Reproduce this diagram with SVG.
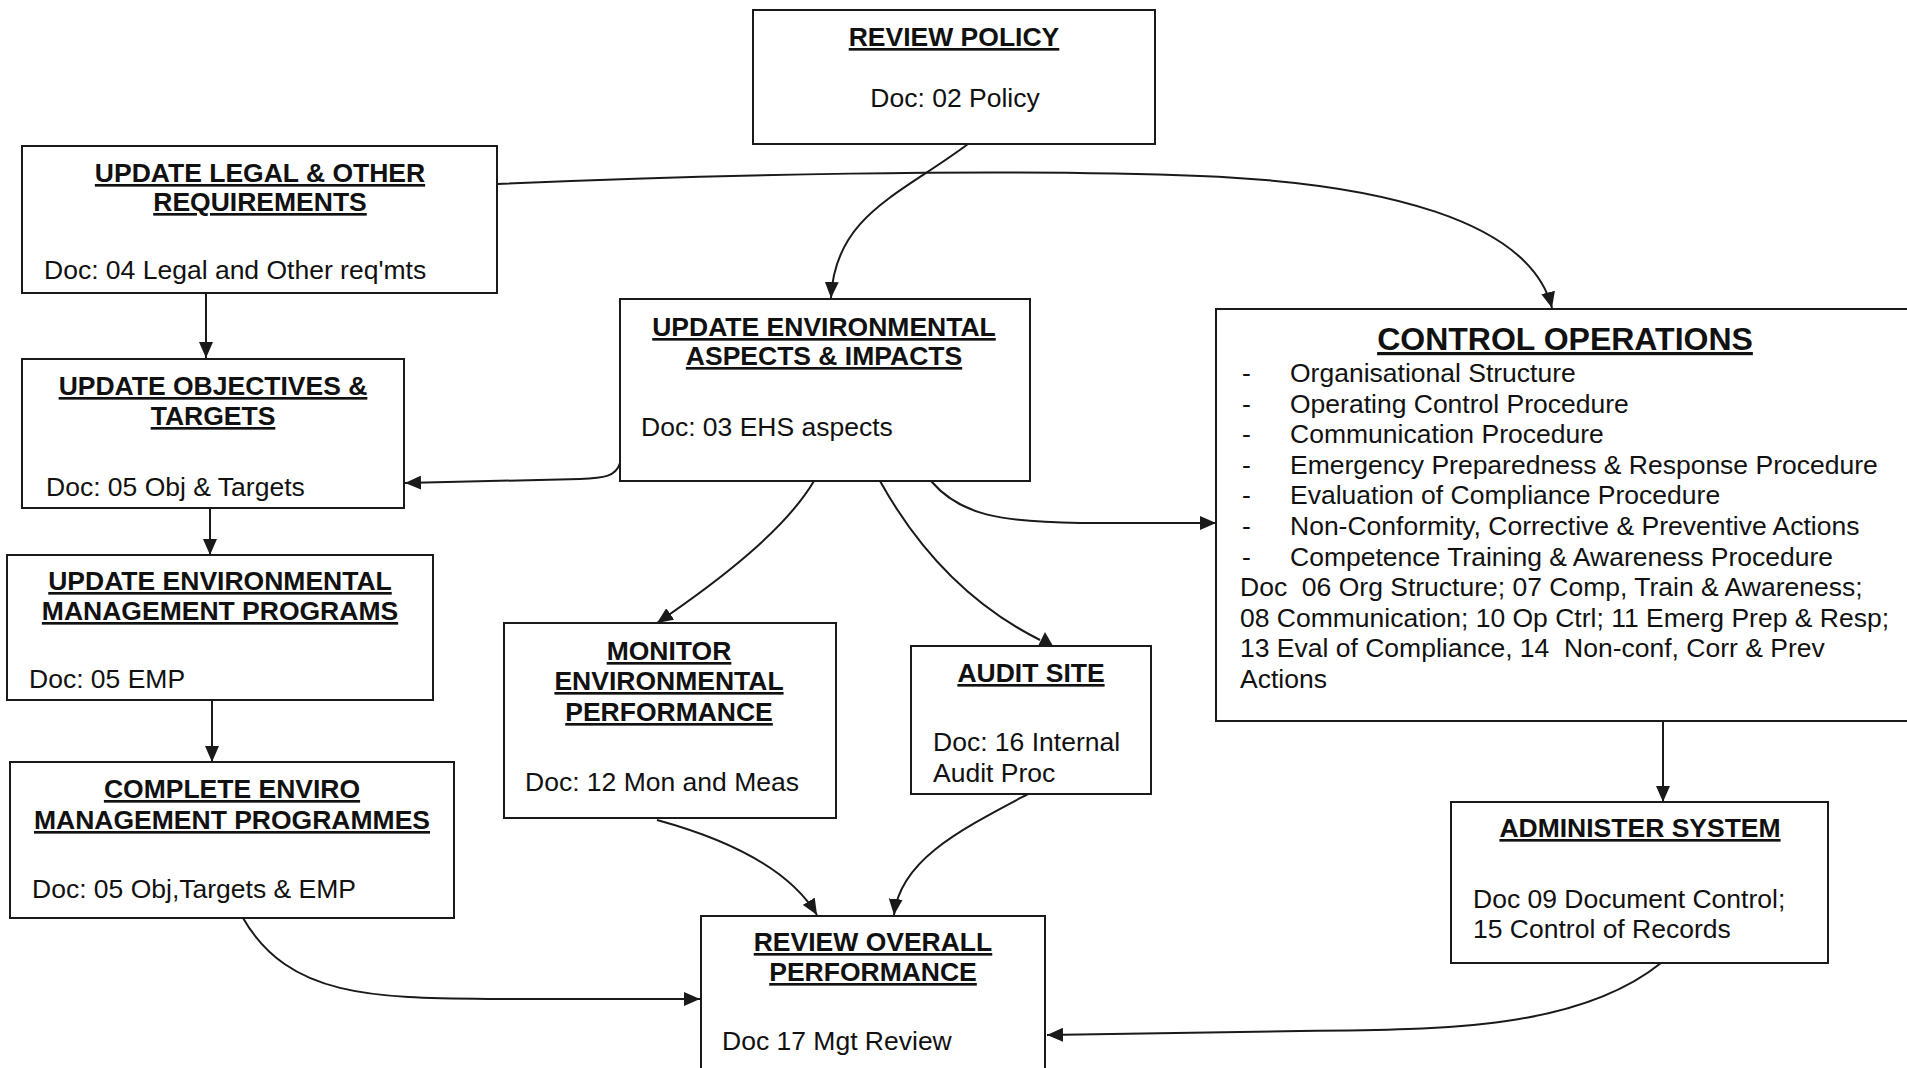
<svg xmlns="http://www.w3.org/2000/svg" width="1907" height="1068" viewBox="0 0 1907 1068">
<defs>
<style>
.box{fill:#fff;stroke:#1a1a1a;stroke-width:2}
text{font-family:"Liberation Sans",Arial,sans-serif;font-size:26.5px;fill:#111}
.t{font-weight:bold;text-anchor:middle;text-decoration:underline}
.big{font-size:32px}
.c{text-anchor:middle}
.ln{fill:none;stroke:#1a1a1a;stroke-width:2}
</style>
<marker id="ah" markerUnits="userSpaceOnUse" markerWidth="17" markerHeight="14" refX="16" refY="7" orient="auto">
<path d="M0,0 L16,7 L0,14 z" fill="#1a1a1a"/>
</marker>
</defs>
<rect width="1907" height="1068" fill="#fff"/>

<g id="connectors">
<path class="ln" d="M968,144 C900,195 835,215 831,298" marker-end="url(#ah)"/>
<path class="ln" d="M497,184 C700,175 1000,168 1200,176 C1380,183 1530,220 1552,308" marker-end="url(#ah)"/>
<path class="ln" d="M206,293 L206,358" marker-end="url(#ah)"/>
<path class="ln" d="M620,463 C616,477 603,478 580,479 L405,483" marker-end="url(#ah)"/>
<path class="ln" d="M210,509 L210,555" marker-end="url(#ah)"/>
<path class="ln" d="M212,700 L212,762" marker-end="url(#ah)"/>
<path class="ln" d="M814,481 C785,530 720,580 657,623" marker-end="url(#ah)"/>
<path class="ln" d="M880,481 C910,535 960,600 1040,640"/>
<path d="M1045,632 L1053,646 L1038,646 z" fill="#1a1a1a"/>
<path class="ln" d="M931,481 C960,515 1000,522 1080,523 L1216,523" marker-end="url(#ah)"/>
<path class="ln" d="M657,820 C730,840 790,870 817,915" marker-end="url(#ah)"/>
<path class="ln" d="M1028,794 C960,830 900,860 894,915" marker-end="url(#ah)"/>
<path class="ln" d="M243,918 C290,1000 380,998 500,999 L700,999" marker-end="url(#ah)"/>
<path class="ln" d="M1663,721 L1663,802" marker-end="url(#ah)"/>
<path class="ln" d="M1661,963 C1580,1028 1450,1030 1300,1031 L1047,1035" marker-end="url(#ah)"/>
</g>

<g id="review-policy">
<rect class="box" x="753" y="10" width="402" height="134"/>
<text class="t" x="954" y="46">REVIEW POLICY</text>
<text class="c" x="955" y="107">Doc: 02 Policy</text>
</g>

<g id="update-legal">
<rect class="box" x="22" y="146" width="475" height="147"/>
<text class="t" x="260" y="182">UPDATE LEGAL &amp; OTHER</text>
<text class="t" x="260" y="211">REQUIREMENTS</text>
<text x="44" y="279">Doc: 04 Legal and Other req'mts</text>
</g>

<g id="update-objectives">
<rect class="box" x="22" y="359" width="382" height="149"/>
<text class="t" x="213" y="395">UPDATE OBJECTIVES &amp;</text>
<text class="t" x="213" y="425">TARGETS</text>
<text x="46" y="496">Doc: 05 Obj &amp; Targets</text>
</g>

<g id="update-aspects">
<rect class="box" x="620" y="299" width="410" height="182"/>
<text class="t" x="824" y="336">UPDATE ENVIRONMENTAL</text>
<text class="t" x="824" y="365">ASPECTS &amp; IMPACTS</text>
<text x="641" y="436">Doc: 03 EHS aspects</text>
</g>

<g id="update-emp">
<rect class="box" x="7" y="555" width="426" height="145"/>
<text class="t" x="220" y="590">UPDATE ENVIRONMENTAL</text>
<text class="t" x="220" y="620">MANAGEMENT PROGRAMS</text>
<text x="29" y="688">Doc: 05 EMP</text>
</g>

<g id="complete-emp">
<rect class="box" x="10" y="762" width="444" height="156"/>
<text class="t" x="232" y="798">COMPLETE ENVIRO</text>
<text class="t" x="232" y="829">MANAGEMENT PROGRAMMES</text>
<text x="32" y="898">Doc: 05 Obj,Targets &amp; EMP</text>
</g>

<g id="monitor">
<rect class="box" x="504" y="623" width="332" height="195"/>
<text class="t" x="669" y="660">MONITOR</text>
<text class="t" x="669" y="690">ENVIRONMENTAL</text>
<text class="t" x="669" y="721">PERFORMANCE</text>
<text x="525" y="791">Doc: 12 Mon and Meas</text>
</g>

<g id="audit-site">
<rect class="box" x="911" y="646" width="240" height="148"/>
<text class="t" x="1031" y="682">AUDIT SITE</text>
<text x="933" y="751">Doc: 16 Internal</text>
<text x="933" y="782">Audit Proc</text>
</g>

<g id="control-operations">
<rect class="box" x="1216" y="309" width="700" height="412"/>
<text class="t big" x="1565" y="350">CONTROL OPERATIONS</text>
<text x="1242" y="382">-</text><text x="1290" y="382">Organisational Structure</text>
<text x="1242" y="413">-</text><text x="1290" y="413">Operating Control Procedure</text>
<text x="1242" y="443">-</text><text x="1290" y="443">Communication Procedure</text>
<text x="1242" y="474">-</text><text x="1290" y="474">Emergency Preparedness &amp; Response Procedure</text>
<text x="1242" y="504">-</text><text x="1290" y="504">Evaluation of Compliance Procedure</text>
<text x="1242" y="535">-</text><text x="1290" y="535">Non-Conformity, Corrective &amp; Preventive Actions</text>
<text x="1242" y="566">-</text><text x="1290" y="566">Competence Training &amp; Awareness Procedure</text>
<text x="1240" y="596" xml:space="preserve">Doc  06 Org Structure; 07 Comp, Train &amp; Awareness;</text>
<text x="1240" y="627">08 Communication; 10 Op Ctrl; 11 Emerg Prep &amp; Resp;</text>
<text x="1240" y="657" xml:space="preserve">13 Eval of Compliance, 14  Non-conf, Corr &amp; Prev</text>
<text x="1240" y="688">Actions</text>
</g>

<g id="administer-system">
<rect class="box" x="1451" y="802" width="377" height="161"/>
<text class="t" x="1640" y="837">ADMINISTER SYSTEM</text>
<text x="1473" y="908">Doc 09 Document Control;</text>
<text x="1473" y="938">15 Control of Records</text>
</g>

<g id="review-overall">
<rect class="box" x="701" y="916" width="344" height="170"/>
<text class="t" x="873" y="951">REVIEW OVERALL</text>
<text class="t" x="873" y="981">PERFORMANCE</text>
<text x="722" y="1050">Doc 17 Mgt Review</text>
</g>
</svg>
